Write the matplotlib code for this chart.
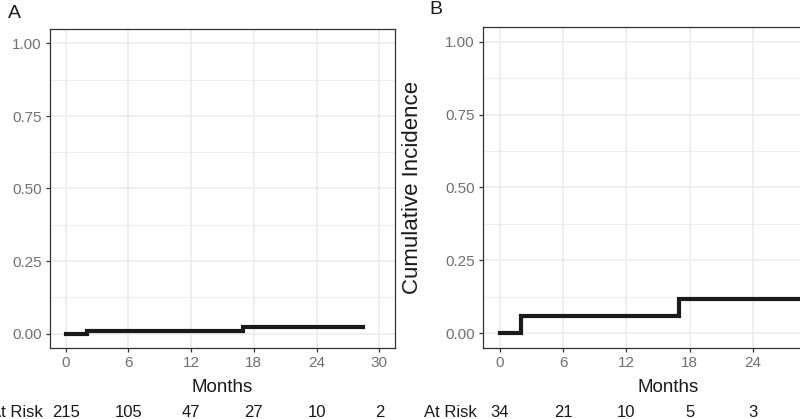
import matplotlib.pyplot as plt
import matplotlib.transforms as mtransforms

# -----------------------------
# Data
# -----------------------------
a_time = [0, 2, 17, 28.4]
a_cif = [0.0, 0.0098, 0.021, 0.021]

b_time = [0, 2, 17, 32]
b_cif = [0.0, 0.06, 0.118, 0.118]

risk_months = [0, 6, 12, 18, 24, 30]
a_risk = [215, 105, 47, 27, 10, 2]
b_risk = [34, 21, 10, 5, 3]

x_ticks = [0, 6, 12, 18, 24, 30]
y_ticks = [0.0, 0.25, 0.5, 0.75, 1.0]
y_minor = [0.125, 0.375, 0.625, 0.875]

plt.rcParams["font.family"] = ["Liberation Sans", "DejaVu Sans"]

fig = plt.figure(figsize=(8, 4.19), dpi=100)

H = 419.0
W = 800.0


def style_axes(ax, xlim, xt):
    ax.set_xlim(*xlim)
    ax.set_ylim(-0.05, 1.05)
    ax.set_xticks(xt)
    ax.set_yticks(y_ticks)
    ax.set_yticks(y_minor, minor=True)
    ax.set_yticklabels([f"{v:.2f}" for v in y_ticks])
    ax.grid(True, which="major", color="#EBEBEB", linewidth=1.1)
    ax.grid(True, which="minor", axis="y", color="#EBEBEB", linewidth=0.6)
    ax.set_axisbelow(True)
    ax.tick_params(axis="both", which="major", length=3, width=0.9,
                   color="#333333", labelcolor="#707070", labelsize=11, pad=3)
    ax.tick_params(axis="y", which="minor", length=0)
    for s in ax.spines.values():
        s.set_color("#333333")
        s.set_linewidth(0.9)


def risk_row(ax, months, counts):
    tr = mtransforms.blended_transform_factory(ax.transData, fig.transFigure)
    y = 1 - 412 / H
    ax.text(-2.2, y, "At Risk", transform=tr, ha="right", va="center",
            fontsize=12, color="#1a1a1a", clip_on=False)
    for m, n in zip(months, counts):
        ax.text(m, y, str(n), transform=tr, ha="center", va="center",
                fontsize=12, color="#1a1a1a", clip_on=False)
    tr2 = mtransforms.blended_transform_factory(ax.transAxes, fig.transFigure)
    ax.text(0.5, 1 - 387 / H, "Months", transform=tr2, ha="center",
            va="center", fontsize=13.5, color="#1a1a1a")


# -----------------------------
# Panel A
# -----------------------------
ax_a = fig.add_axes([50 / W, 1 - 348 / H, (395 - 50) / W, (348 - 29) / H])
style_axes(ax_a, (-1.5, 31.5), x_ticks)
ax_a.plot(a_time, a_cif, drawstyle="steps-post", color="#1a1a1a",
          linewidth=3.0, solid_joinstyle="miter")
risk_row(ax_a, risk_months, a_risk)
fig.text(8 / W, 1 - 14 / H, "A", fontsize=14, ha="left", va="center",
         color="#1a1a1a")

# -----------------------------
# Panel B (cut off on the right, as in the source)
# -----------------------------
ax_b = fig.add_axes([483 / W, 1 - 348 / H, (854 - 483) / W, (348 - 27) / H])
style_axes(ax_b, (-1.6, 33.6), x_ticks[:5])
ax_b.plot(b_time, b_cif, drawstyle="steps-post", color="#1a1a1a",
          linewidth=3.0, solid_joinstyle="miter")
risk_row(ax_b, risk_months[:len(b_risk)], b_risk)
fig.text(429 / W, 1 - 10 / H, "B", fontsize=14, ha="left", va="center",
         color="#1a1a1a")
tr_b = mtransforms.blended_transform_factory(fig.transFigure, ax_b.transAxes)
ax_b.text(413 / W, 0.5, "Cumulative Incidence", transform=tr_b, rotation=90,
          ha="center", va="center", fontsize=16, color="#1a1a1a")

fig.savefig("out.png", dpi=100)
